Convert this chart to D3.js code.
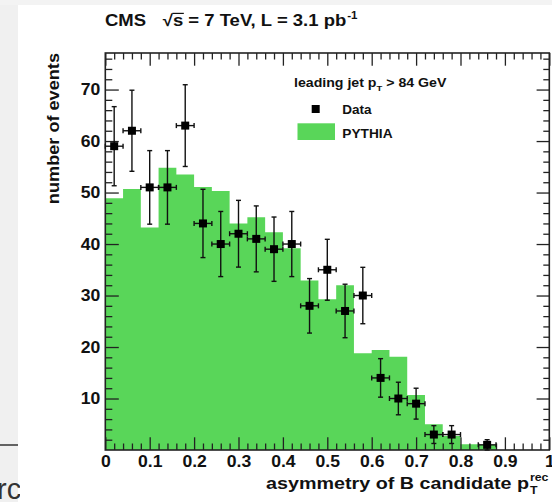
<!DOCTYPE html>
<html><head><meta charset="utf-8">
<script src="https://cdn.jsdelivr.net/npm/d3@7"></script>
<style>
html,body{margin:0;padding:0;background:#fff;}
svg{display:block;}
text{font-family:"Liberation Sans",Arial,Helvetica,sans-serif;font-weight:bold;fill:#111;}
</style></head>
<body>
<svg id="c" width="552" height="502"></svg>
<script>
// ---- data ----
const binLow = [0.00,0.04,0.08,0.12,0.16,0.20,0.24,0.28,0.32,0.36,0.40,0.44,0.48,0.52,0.56,0.60,0.64,0.68,0.72,0.76,0.80,0.84,0.88,0.92,0.96];
const binWidth = 0.04;
const pythia = [48.9,50.7,43.2,54.8,53.5,51.1,50.3,44.0,45.2,42.3,39.2,32.9,29.3,32.0,18.8,19.4,18.1,10.7,5.0,2.7,1.1,1.0,0,0,0];
const dataCounts = [59,62,51,51,63,44,40,42,41,39,40,28,35,27,30,14,10,9,3,3,0,1,0,0,0];
const xMajorTicks = [0,0.1,0.2,0.3,0.4,0.5,0.6,0.7,0.8,0.9,1.0];
const xTickLabels = ["0","0.1","0.2","0.3","0.4","0.5","0.6","0.7","0.8","0.9","1"];
const xMinorTicks = [0.02,0.04,0.06,0.08,0.12,0.14,0.16,0.18,0.22,0.24,0.26,0.28,0.32,0.34,0.36,0.38,0.42,0.44,0.46,0.48,0.52,0.54,0.56,0.58,0.62,0.64,0.66,0.68,0.72,0.74,0.76,0.78,0.82,0.84,0.86,0.88,0.92,0.94,0.96,0.98];
const yMajorTicks = [10,20,30,40,50,60,70];
const yTickLabels = ["10","20","30","40","50","60","70"];
const yMinorTicks = [2,4,6,8,12,14,16,18,22,24,26,28,32,34,36,38,42,44,46,48,52,54,56,58,62,64,66,68,72,74,76];
const titleMain = "CMS";
const titleRest = "\u221As = 7 TeV, L = 3.1 pb";
const titleSup = "-1";
const legendHeader = ["leading jet p", "T", " > 84 GeV"];
const legendLabels = ["Data","PYTHIA"];
const xTitle = ["asymmetry of B candidate p","T","rec"];
const yTitle = "number of events";

// ---- layout ----
const svg = d3.select("#c");
const L = 105.3, R = 549.3, T = 53, B = 450;
const x = d3.scaleLinear().domain([0,1]).range([L,R]);
const y = d3.scaleLinear().domain([0,77.1]).range([B,T]);
const green = "#59d659";
const axisCol = "#222";

// slide artefacts
svg.append("rect").attr("x",0).attr("y",0).attr("width",18).attr("height",502).attr("fill","#f0f0f0");
svg.append("rect").attr("x",0).attr("y",0).attr("width",552).attr("height",5).attr("fill","#f3f3f3");
svg.append("line").attr("x1",0).attr("x2",18).attr("y1",445).attr("y2",445).attr("stroke","#333").attr("stroke-width",1.5);
svg.append("clipPath").attr("id","rcclip").append("rect").attr("x",0).attr("y",0).attr("width",20).attr("height",502);
svg.append("text").attr("x",-3).attr("y",499).attr("clip-path","url(#rcclip)")
  .style("font-weight","normal").style("font-size","29px").style("fill","#333").text("rc");

// histogram
const bins = binLow.map((b,i)=>({x0:b,x1:b+binWidth,v:pythia[i]}));
let pathD = `M${x(0)},${y(0)}`;
bins.forEach(b=>{ pathD += `L${x(b.x0)},${y(b.v)}L${x(b.x1)},${y(b.v)}`; });
pathD += `L${x(1)},${y(0)}Z`;
svg.append("path").attr("d",pathD).attr("fill",green);

// axes
function styleAxis(g){ g.select(".domain").remove(); g.selectAll("line").attr("stroke",axisCol).attr("stroke-width",1.3); }
const kx = 1.1;
const gxb = svg.append("g").attr("transform",`translate(0,${B})`)
  .call(d3.axisBottom(x).tickValues(xMajorTicks).tickSize(-12.7).tickPadding(6)
    .tickFormat((d,i)=>xTickLabels[i]));
styleAxis(gxb);
gxb.selectAll("text").attr("transform",`scale(${kx},1)`).style("font-size","16px").attr("fill","#111");
svg.append("g").attr("transform",`translate(0,${B})`).call(d3.axisBottom(x).tickValues(xMinorTicks).tickSize(-6.5).tickFormat("")).call(styleAxis);
svg.append("g").attr("transform",`translate(0,${T})`).call(d3.axisTop(x).tickValues(xMajorTicks).tickSize(-12.7).tickFormat("")).call(styleAxis);
svg.append("g").attr("transform",`translate(0,${T})`).call(d3.axisTop(x).tickValues(xMinorTicks).tickSize(-6.5).tickFormat("")).call(styleAxis);

const gyl = svg.append("g").attr("transform",`translate(${L},0)`)
  .call(d3.axisLeft(y).tickValues(yMajorTicks).tickSize(-13.5).tickPadding(5)
    .tickFormat((d,i)=>yTickLabels[i]));
styleAxis(gyl);
gyl.selectAll("text").attr("x",-5/kx).attr("transform",`scale(${kx},1)`).style("font-size","16px").attr("fill","#111");
svg.append("g").attr("transform",`translate(${L},0)`).call(d3.axisLeft(y).tickValues(yMinorTicks).tickSize(-7).tickFormat("")).call(styleAxis);
svg.append("g").attr("transform",`translate(${R},0)`).call(d3.axisRight(y).tickValues(yMajorTicks).tickSize(-12.7).tickFormat("")).call(styleAxis);
svg.append("g").attr("transform",`translate(${R},0)`).call(d3.axisRight(y).tickValues(yMinorTicks).tickSize(-6).tickFormat("")).call(styleAxis);

svg.append("rect").attr("x",L).attr("y",T).attr("width",R-L).attr("height",B-T)
  .attr("fill","none").attr("stroke",axisCol).attr("stroke-width",1.6);

// data points
const pts = binLow.map((b,i)=>({c:b+binWidth/2,v:dataCounts[i]})).filter(d=>d.v>0);
const eg = svg.append("g").attr("stroke","#111").attr("stroke-width",1.4);
pts.forEach(d=>{
  const e = Math.sqrt(d.v);
  const cx = x(d.c), cy = y(d.v);
  const xl = x(d.c-binWidth/2), xr = x(d.c+binWidth/2);
  const yt = y(d.v+e), yb = y(Math.max(0,d.v-e));
  eg.append("line").attr("x1",cx).attr("x2",cx).attr("y1",yt).attr("y2",yb);
  eg.append("line").attr("x1",cx-2.5).attr("x2",cx+2.5).attr("y1",yt).attr("y2",yt);
  eg.append("line").attr("x1",cx-2.5).attr("x2",cx+2.5).attr("y1",yb).attr("y2",yb);
  eg.append("line").attr("x1",xl).attr("x2",xr).attr("y1",cy).attr("y2",cy);
  eg.append("line").attr("x1",xl).attr("x2",xl).attr("y1",cy-2.5).attr("y2",cy+2.5);
  eg.append("line").attr("x1",xr).attr("x2",xr).attr("y1",cy-2.5).attr("y2",cy+2.5);
});
svg.append("g").selectAll("rect").data(pts).join("rect")
  .attr("x",d=>x(d.c)-4).attr("y",d=>y(d.v)-4).attr("width",8).attr("height",8).attr("fill","#000");

// helper: horizontally fit a group between x0,x1
function fitGroup(g, x0, x1, yb){
  const w = g.node().getBBox();
  const k = (x1-x0)/w.width;
  g.attr("transform",`translate(${x0 - w.x*k},${yb}) scale(${k},1)`);
}

// title
{
  const g = svg.append("g");
  const t = g.append("text").style("font-size","16px");
  t.append("tspan").attr("x",0).text(titleMain);
  t.append("tspan").attr("x",50).text(titleRest);
  const tn = t.node();
  const sx0 = tn.getStartPositionOfChar(4).x, sx1 = tn.getEndPositionOfChar(4).x;
  g.append("line").attr("x1",sx0-0.5).attr("x2",sx1+0.5).attr("y1",-12.6).attr("y2",-12.6).attr("stroke","#111").attr("stroke-width",1.2);
  const sup = g.append("text").style("font-size","10px").attr("y",-7).text(titleSup);
  const tb = tn.getBBox();
  sup.attr("x", tb.x+tb.width+0.5);
  fitGroup(g, 105, 358, 26);
}

// legend
{
  const g = svg.append("g");
  const t = g.append("text").style("font-size","12px");
  t.append("tspan").text(legendHeader[0]);
  t.append("tspan").attr("dy",4).style("font-size","8px").text(legendHeader[1]);
  t.append("tspan").attr("dy",-4).text(legendHeader[2]);
  fitGroup(g, 294, 446.5, 86.7);
  svg.append("rect").attr("x",311.7).attr("y",105).attr("width",8).attr("height",8).attr("fill","#000");
  svg.append("rect").attr("x",297.5).attr("y",123.3).attr("width",37.5).attr("height",16.7).attr("fill",green);
  const g1 = svg.append("g"); g1.append("text").style("font-size","12px").text(legendLabels[0]);
  fitGroup(g1, 342.3, 372, 113.5);
  const g2 = svg.append("g"); g2.append("text").style("font-size","12px").text(legendLabels[1]);
  fitGroup(g2, 342.3, 393, 138);
}

// x title
{
  const g = svg.append("g");
  const t = g.append("text").style("font-size","16px").text(xTitle[0]);
  const w = t.node().getComputedTextLength();
  g.append("text").attr("x",w+0.5).attr("y",5).style("font-size","10px").text(xTitle[1]);
  g.append("text").attr("x",w+0.5).attr("y",-8).style("font-size","10px").text(xTitle[2]);
  fitGroup(g, 266, 549, 489);
}

// y title
{
  const g = svg.append("g");
  const t = g.append("text").style("font-size","16.5px").attr("text-anchor","end").text(yTitle);
  g.attr("transform",`translate(59,53) rotate(-90) scale(1.1,1)`);
}
</script>
</body></html>
